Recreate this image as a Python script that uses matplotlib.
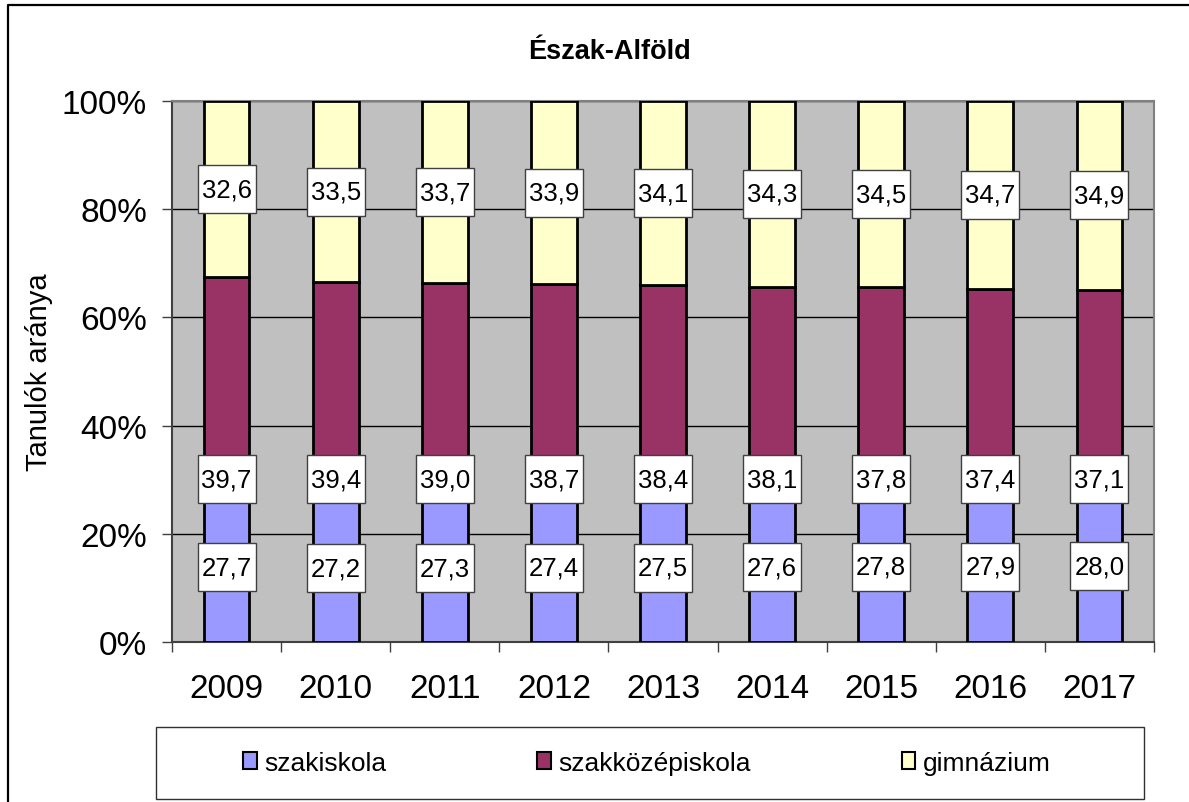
import numpy as np
import matplotlib.pyplot as plt
import matplotlib.transforms as mtransforms
from matplotlib.patches import Rectangle
from matplotlib.lines import Line2D

plt.rcParams['font.family'] = ['Liberation Sans', 'DejaVu Sans']

years = ['2009', '2010', '2011', '2012', '2013', '2014', '2015', '2016', '2017']
szakiskola = [27.7, 27.2, 27.3, 27.4, 27.5, 27.6, 27.8, 27.9, 28.0]
szakkozep = [39.7, 39.4, 39.0, 38.7, 38.4, 38.1, 37.8, 37.4, 37.1]
gimnazium = [32.6, 33.5, 33.7, 33.9, 34.1, 34.3, 34.5, 34.7, 34.9]
series_names = ['szakiskola', 'szakközépiskola', 'gimnázium']
colors = ['#9999ff', '#993366', '#ffffcc']

W, H = 1189, 803
fig = plt.figure(figsize=(W / 100, H / 100), dpi=100)

# outer chart border (only top and left visible, the rest is cropped)
fig.lines.append(Line2D([8 / W, 8 / W, 1], [0, 1 - 6 / H, 1 - 6 / H],
                        transform=fig.transFigure, color='black', linewidth=1.6))

ax = fig.add_axes([172 / W, 1 - 643 / H, 982 / W, 541 / H])
ax.set_facecolor('#c0c0c0')

x = np.arange(len(years))
data = np.array([szakiskola, szakkozep, gimnazium])
pct = data / data.sum(axis=0) * 100
bottom = np.zeros(len(years))
bars = []
for i in range(3):
    b = ax.bar(x, pct[i], 0.42, bottom=bottom, color=colors[i],
               edgecolor='black', linewidth=2, label=series_names[i], zorder=3)
    bars.append(b)
    bottom += pct[i]

# data labels in white boxes (58x48 px)
lab_y = [pct[0] / 2, np.full(len(years), 30.1), pct[0] + pct[1] + pct[2] / 2]
for i in range(3):
    for j in range(len(years)):
        trans = fig.dpi_scale_trans + mtransforms.ScaledTranslation(x[j], lab_y[i][j], ax.transData)
        ax.add_patch(Rectangle((-0.29, -0.24), 0.58, 0.48, transform=trans,
                               facecolor='white', edgecolor='#404040', linewidth=1, zorder=4))
        ax.text(x[j], lab_y[i][j], f"{data[i][j]:.1f}".replace('.', ','),
                ha='center', va='center', fontsize=18.5, zorder=5)

ax.set_xlim(-0.5, len(years) - 0.5)
ax.set_ylim(0, 100)
ax.set_yticks(np.arange(0, 101, 20))
ax.set_yticklabels([f"{v}%" for v in range(0, 101, 20)], fontsize=24)
ax.yaxis.grid(True, color='black', linewidth=1, zorder=0)
ax.set_axisbelow(True)

ax.set_xticks(x)
ax.set_xticklabels(years, fontsize=24)
ax.tick_params(axis='x', length=0, pad=22)
ax.set_xticks(np.arange(-0.5, len(years), 1), minor=True)
ax.tick_params(axis='x', which='minor', length=7, width=1, color='#404040')
ax.tick_params(axis='y', length=7, width=1, color='#404040', pad=11)

for side in ['left', 'bottom']:
    ax.spines[side].set_color('#404040')
    ax.spines[side].set_linewidth(1.5)
for side in ['top', 'right']:
    ax.spines[side].set_color('#808080')
    ax.spines[side].set_linewidth(1.5)

ax.set_ylabel('Tanulók aránya', fontsize=21, labelpad=6)
fig.text(610 / W, 1 - 52 / H, 'Észak-Alföld',
         ha='center', va='center', fontsize=19.5, fontweight='bold')

# legend frame drawn separately, legend entries inside
fig.patches.append(Rectangle((156 / W, 1 - 800 / H), 988 / W, 72 / H,
                             transform=fig.transFigure, facecolor='white',
                             edgecolor='#303030', linewidth=1))
leg = fig.legend(handles=bars, labels=series_names, loc='center',
                 bbox_to_anchor=(647 / W, 1 - 764 / H), ncol=3,
                 fontsize=19, frameon=False,
                 handlelength=0.52, handleheight=0.6, handletextpad=0.3,
                 columnspacing=5.7, borderpad=0)
for h in leg.legend_handles:
    h.set_linewidth(1.5)

fig.savefig('out.png', dpi=100)
